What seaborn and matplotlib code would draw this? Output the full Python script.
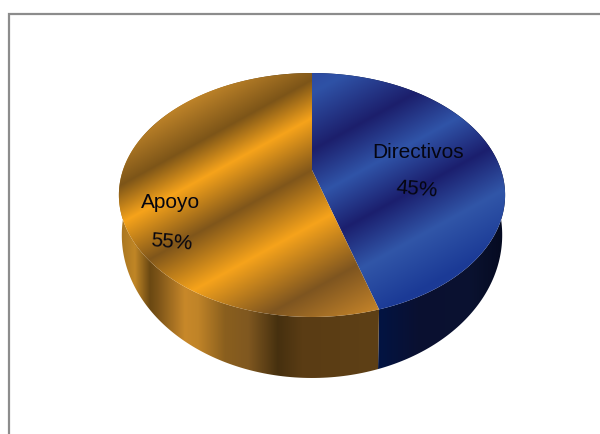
import numpy as np
import matplotlib
matplotlib.use("Agg")
import matplotlib.pyplot as plt
from matplotlib.colors import to_rgb
from matplotlib.patches import Polygon
import seaborn as sns

categories = ["Directivos", "Apoyo"]
shares = [45.4, 54.6]
share_labels = ["45%", "55%"]

# band positions across the top face (px along the diagonal) and their colours
blue_bands = [45, 93, 150, 198, 246, 295, 350]
blue_colors = ["#2a3f98", "#2f52a6", "#1c1f6c", "#3054a8", "#1b1f6e", "#3156a8", "#1b3a96"]
orange_bands = [30, 80, 118, 170, 225, 290, 350]
orange_colors = ["#c2862a", "#7d5518", "#f6a31b", "#80561a", "#f6a31b", "#7e5520", "#c8862a"]

# side wall colours by x pixel
side_orange_x = [120, 135, 150, 158, 185, 198, 225, 248, 278, 302, 378]
side_orange_colors = ["#a87520", "#c08626", "#6a4812", "#7c5418", "#c8882a", "#c08428", "#8a5f1e",
                      "#805820", "#46300f", "#5a3c14", "#5e4016"]
side_blue_x = [376, 420, 470, 505]
side_blue_colors = ["#021444", "#0a1030", "#0a1230", "#050a20"]

sns.set_theme(style="white")
plt.rcParams["font.family"] = ["Liberation Sans", "DejaVu Sans"]

fig, ax = plt.subplots(figsize=(6.0, 4.34), dpi=100)
fig.subplots_adjust(0, 0, 1, 1)

wedges, _ = ax.pie(shares, startangle=90, counterclock=False)


def project(theta):
    # tilted disc with perspective, apex sits above the ellipse centre
    u, v = np.cos(theta), np.sin(theta)
    w = 1 + 0.205 * v
    return 312 + 189 * u / w, (170 - 82 * v) / w


def painted(poly_xy, rgb, z):
    patch = Polygon(poly_xy, closed=True, fc="none", ec="none", zorder=z)
    ax.add_patch(patch)
    im = ax.imshow(rgb, extent=(0, 600, 434, 0), aspect="auto", zorder=z, interpolation="bilinear")
    im.set_clip_path(patch)


def bands(coord, stops, colors):
    rgb = np.array([to_rgb(c) for c in colors])
    return np.dstack([np.interp(coord, stops, rgb[:, i]) for i in range(3)])


X, Y = np.meshgrid(np.arange(600) + 0.5, np.arange(434) + 0.5)
T = Y + 0.55 * (X - 312)
top_fills = [bands(T, blue_bands, blue_colors), bands(T, orange_bands, orange_colors)]
side_fills = [bands(X, side_blue_x, side_blue_colors), bands(X, side_orange_x, side_orange_colors)]

for wedge, top, side in zip(wedges, top_fills, side_fills):
    wedge.set_visible(False)
    th = np.radians(np.linspace(wedge.theta1, wedge.theta2, 200))
    x0, y0 = project(th)
    # lower rim of the wall, a slightly narrower and deeper ellipse
    x1 = 312 + (x0 - 312) * 0.985
    y1 = 235 + (y0 - 195) * 143 / 122
    painted(np.r_[np.c_[x0, y0], np.c_[x1, y1][::-1]], side, 2)
    painted(np.r_[[[312, 170]], np.c_[x0, y0]], top, 3)

text_kw = dict(ha="center", va="center", color="#050510", fontsize=15, zorder=5)
ax.text(418, 152, categories[0], **text_kw)
ax.text(417, 189, share_labels[0], rotation=-5, **text_kw)
ax.text(171, 203, categories[1], **text_kw)
ax.text(171, 242, share_labels[1], rotation=-5, **text_kw)

# frame of the original picture, only top and left show
ax.plot([9, 9, 600], [434, 14, 14], color="#8c8c8c", lw=1.6, solid_joinstyle="miter", zorder=6)

ax.set_aspect("auto")
ax.set_xlim(0, 600)
ax.set_ylim(434, 0)
ax.axis("off")

fig.savefig("out.png", dpi=100)
